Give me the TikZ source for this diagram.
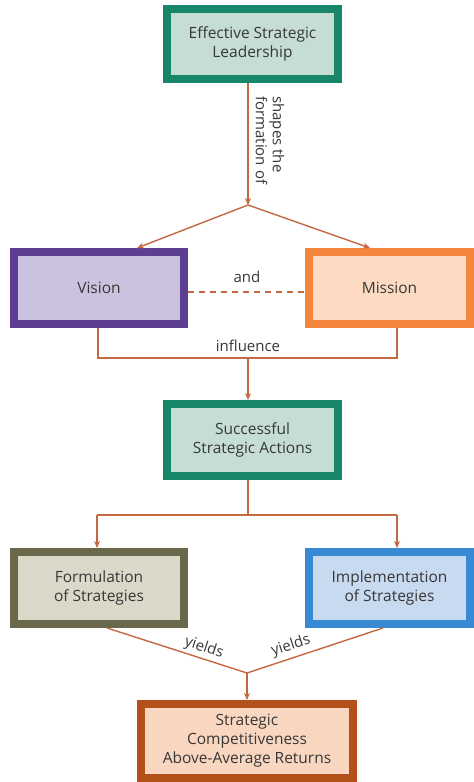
\documentclass[tikz,border=0pt]{standalone}
\usepackage{fontspec}
\setmainfont{Open Sans}
\usetikzlibrary{arrows.meta}

\definecolor{leadborder}{RGB}{24,134,104}
\definecolor{leadfill}{RGB}{197,221,212}
\definecolor{visborder}{RGB}{94,62,146}
\definecolor{visfill}{RGB}{202,194,222}
\definecolor{misborder}{RGB}{243,134,58}
\definecolor{misfill}{RGB}{252,219,194}
\definecolor{forborder}{RGB}{106,104,74}
\definecolor{forfill}{RGB}{219,216,202}
\definecolor{impborder}{RGB}{56,138,212}
\definecolor{impfill}{RGB}{199,218,240}
\definecolor{retborder}{RGB}{180,80,26}
\definecolor{retfill}{RGB}{249,214,191}
\definecolor{linkcol}{RGB}{196,104,66}
\definecolor{ink}{RGB}{55,55,55}

\tikzset{
  box/.style={rectangle, line width=8pt, align=center, inner sep=0pt,
    text=ink, font=\fontsize{15.5}{19}\selectfont},
  link/.style={draw=linkcol, line width=1.4pt},
  arrowlink/.style={link, -{Stealth[length=7pt,width=6pt]}},
  lbl/.style={text=ink, font=\fontsize{15}{17}\selectfont, inner sep=0pt}
}

\begin{document}
\begin{tikzpicture}[x=1pt,y=-1pt]
\useasboundingbox (0,0) rectangle (474,782);

% boxes
\node[box, draw=leadborder, fill=leadfill, minimum width=171pt, minimum height=70pt]
  (lead) at (252.5,44) {Effective Strategic\\Leadership};
\node[box, draw=visborder, fill=visfill, minimum width=170pt, minimum height=72pt]
  (vision) at (99,288) {Vision};
\node[box, draw=misborder, fill=misfill, minimum width=161pt, minimum height=72pt]
  (mission) at (389.5,288) {Mission};
\node[box, draw=leadborder, fill=leadfill, minimum width=171pt, minimum height=72pt]
  (actions) at (252.5,440) {Successful\\Strategic Actions};
\node[box, draw=forborder, fill=forfill, minimum width=170pt, minimum height=72pt]
  (formul) at (99,588) {Formulation\\of Strategies};
\node[box, draw=impborder, fill=impfill, minimum width=161pt, minimum height=72pt]
  (implem) at (389.5,588) {Implementation\\of Strategies};
\node[box, draw=retborder, fill=retfill, minimum width=212pt, minimum height=74pt]
  (returns) at (247,741) {Strategic\\Competitiveness\\Above-Average Returns};

% junction points of the connectors
\coordinate (col) at (248,0);
\coordinate (split) at (248,205);
\coordinate (vtip) at (137,0);
\coordinate (mtip) at (370,0);
\coordinate (infl) at (248,358);
\coordinate (inflL) at (98,358);
\coordinate (inflR) at (397,358);
\coordinate (fork) at (248,515);
\coordinate (forkL) at (97,515);
\coordinate (forkR) at (397,515);
\coordinate (yl) at (107,0);
\coordinate (yr) at (383,0);
\coordinate (meet) at (247,673);

% leadership shapes vision and mission
\draw[arrowlink] (lead.south -| col) -- (split);
\draw[arrowlink] (split) -- (vision.north -| vtip);
\draw[arrowlink] (split) -- (mission.north -| mtip);
\node[lbl, rotate=-90, anchor=west, align=left] (shapes) at (270,96) {shapes the\\formation of};

% vision and mission
\draw[link, dash pattern=on 6pt off 5pt] (vision.east |- 0,292) -- (mission.west |- 0,292);
\node[lbl] (andlbl) at (247,277) {and};

% influence
\draw[link] (vision.south -| inflL) -- (inflL) -- (inflR) -- (mission.south -| inflR);
\draw[arrowlink] (infl) -- (actions.north -| col);
\node[lbl] (infllbl) at (248,346) {influence};

% actions split into formulation and implementation
\draw[link] (actions.south -| col) -- (fork);
\draw[link] (forkL) -- (forkR);
\draw[arrowlink] (forkL) -- (formul.north -| forkL);
\draw[arrowlink] (forkR) -- (implem.north -| forkR);

% both yield the returns
\draw[link] (formul.south -| yl) -- (meet);
\draw[link] (implem.south -| yr) -- (meet);
\draw[arrowlink] (meet) -- (returns.north);
\node[lbl, rotate=-18] (yieldL) at (204,648) {yields};
\node[lbl, rotate=18] (yieldR) at (291,646) {yields};
\end{tikzpicture}
\end{document}
